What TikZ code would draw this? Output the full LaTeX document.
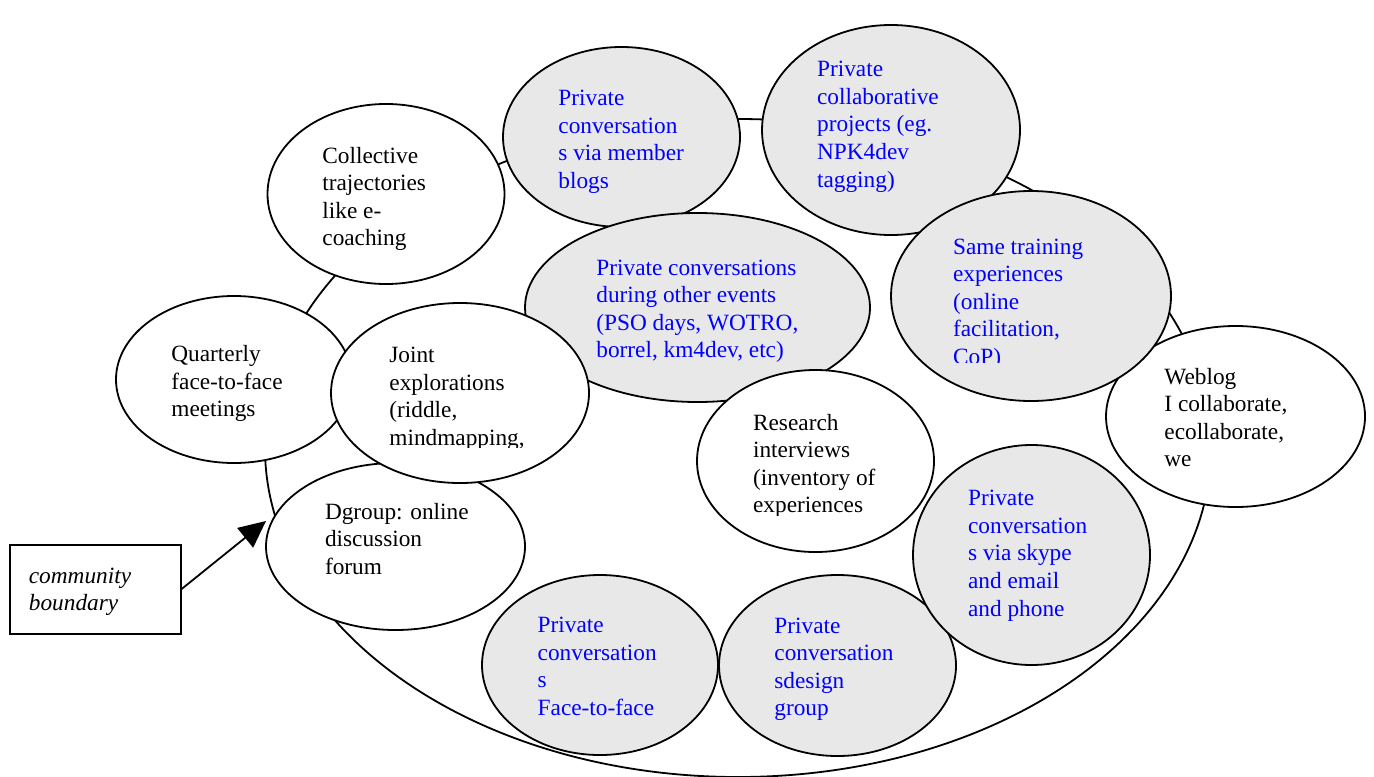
\documentclass[tikz,border=0pt]{standalone}
\usepackage{fontspec}
\setmainfont{Liberation Serif}
\usetikzlibrary{shapes.geometric,arrows.meta}
\definecolor{bubblegray}{RGB}{232,232,232}
\definecolor{txtblue}{RGB}{0,0,255}
\newcommand\mlines[1]{\vtop{\baselineskip=13.8pt\lineskiplimit=-20pt\halign{##\hfil\cr#1\crcr}}}
\begin{document}
\begin{tikzpicture}[x=0.5pt,y=-0.5pt,
  bubble/.style={ellipse, draw=black, line width=0.9pt, inner sep=0pt, outer sep=0pt},
  plain/.style={bubble, fill=white},
  shaded/.style={bubble, fill=bubblegray},
  btext/.style={anchor=base west, inner sep=0pt, font=\fontsize{11.65pt}{13.8pt}\selectfont, text=black},
  ptext/.style={btext, text=txtblue},
  boundary/.style={ellipse, draw=black, line width=0.9pt, inner sep=0pt, outer sep=0pt}
]
\useasboundingbox (0,0) rectangle (1374,776);

% community boundary
\node[boundary, minimum width=473pt, minimum height=329pt] (border) at (738,448) {};

\node[plain, minimum width=118.5pt, minimum height=90pt] (collective) at (386,194) {};
\node[btext] (tcollective) at (322,163) {\mlines{Collective\cr trajectories\cr like e-\cr coaching}};

\node[shaded, minimum width=118.5pt, minimum height=90pt] (blogs) at (621.5,137) {};
\node[ptext] (tblogs) at (558,105.7) {\mlines{Private\cr conversation\cr s via member\cr blogs}};

\node[shaded, minimum width=129pt, minimum height=105pt] (npk) at (891,130) {};
\node[ptext] (tnpk) at (816.7,76.7) {\mlines{Private\cr collaborative\cr projects (eg.\cr NPK4dev\cr tagging)}};

\node[plain, minimum width=129.5pt, minimum height=90.5pt] (weblog) at (1235.5,416.5) {};
\node[btext] (tweblog) at (1164,384) {\mlines{Weblog\cr I collaborate,\cr ecollaborate,\cr we}};

\node[shaded, minimum width=140pt, minimum height=105pt] (same) at (1031,296) {};
\begin{scope}
\clip (940,220) rectangle (1120,362);
\node[ptext] (tsame) at (952.7,254) {\mlines{Same training\cr experiences\cr (online\cr facilitation,\cr CoP)}};
\end{scope}

\node[plain, minimum width=118pt, minimum height=83.5pt] (quarterly) at (234,379.5) {};
\node[btext] (tquarterly) at (171,361.7) {\mlines{Quarterly\cr face-to-face\cr meetings}};

\node[shaded, minimum width=172.5pt, minimum height=94.5pt] (events) at (697.5,307.5) {};
\node[ptext] (tevents) at (596,275) {\mlines{Private conversations\cr during other events\cr (PSO days, WOTRO,\cr borrel, km4dev, etc)}};

\node[plain, minimum width=129.5pt, minimum height=83.5pt] (dgroup) at (395.5,546.5) {};
\node[btext] (tdgroup) at (324.6,519) {\mlines{Dgroup: online\cr discussion\cr forum}};

\node[plain, minimum width=129pt, minimum height=90pt] (joint) at (460,393) {};
\begin{scope}
\clip (380,330) rectangle (600,447);
\node[btext] (tjoint) at (389,362.7) {\mlines{Joint\cr explorations\cr (riddle,\cr mindmapping,}};
\end{scope}

\node[plain, minimum width=118.5pt, minimum height=91pt] (research) at (815.5,461) {};
\begin{scope}
\clip (740,395) rectangle (930,515);
\node[btext] (tresearch) at (752.7,430) {\mlines{Research\cr interviews\cr (inventory of\cr experiences}};
\end{scope}

\node[shaded, minimum width=118pt, minimum height=90pt] (face) at (600,665) {};
\node[ptext] (tface) at (537.3,632.7) {\mlines{Private\cr conversation\cr s\cr Face-to-face}};

\node[shaded, minimum width=118.5pt, minimum height=90.5pt] (sdesign) at (837.5,665.5) {};
\begin{scope}
\clip (760,600) rectangle (950,719.5);
\node[ptext] (tsdesign) at (774,633) {\mlines{Private\cr conversation\cr sdesign\cr group}};
\end{scope}

\node[shaded, minimum width=118.5pt, minimum height=110pt] (skype) at (1031.5,555) {};
\node[ptext] (tskype) at (967.7,505.7) {\mlines{Private\cr conversation\cr s via skype\cr and email\cr and phone}};

% label box and arrow
\node[draw=black, line width=0.9pt, minimum width=85.5pt, minimum height=44.5pt, inner sep=0pt, outer sep=0pt] (cb) at (95.5,589.5) {};
\node[btext, font=\fontsize{11.65pt}{13.8pt}\selectfont\itshape] (tcb) at (28.5,583) {\mlines{community\cr boundary}};
\coordinate (tip) at (266,521);
\draw[line width=0.9pt, -{Triangle[length=13.4pt,width=12.5pt]}] (cb.east) -- (tip);
\end{tikzpicture}
\end{document}
